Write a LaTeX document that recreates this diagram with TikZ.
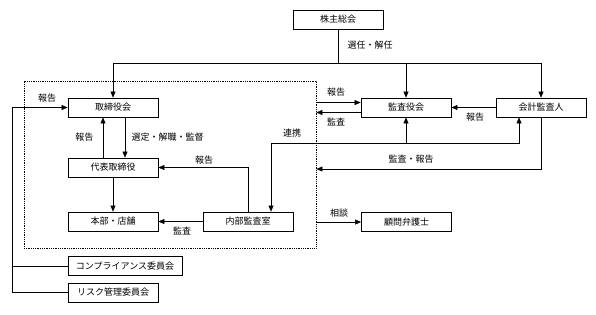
\documentclass[tikz,border=0pt]{standalone}
\usepackage{fontspec}
\newfontfamily\jpfont{Noto Sans CJK JP}
\usetikzlibrary{arrows.meta}
\begin{document}
\begin{tikzpicture}[x=1pt,y=-1pt,every node/.style={font=\jpfont\fontsize{9}{10}\selectfont},
  box/.style={draw,thick,minimum width=90pt,minimum height=19pt,inner sep=0pt},
  arr/.style={-{Triangle[length=6pt,width=5pt]}},lbl/.style={inner sep=1pt}]
\useasboundingbox (0,0) rectangle (596,314);
\node[draw,densely dotted,thick,minimum width=292pt,minimum height=167pt] (group) at (170,164.5) {};
\node[box] (kabu) at (338,19.5) {株主総会};
\node[box] (torishimari) at (113,107.5) {取締役会};
\node[box] (kansa) at (406,107.5) {監査役会};
\node[box] (kaikei) at (541,107.5) {会計監査人};
\node[box] (daihyo) at (113,167.5) {代表取締役};
\node[box] (honbu) at (113,221.5) {本部・店舗};
\node[box] (naibu) at (248,221.5) {内部監査室};
\node[box] (komon) at (406.5,222) {顧問弁護士};
\node[box,minimum width=114pt] (comp) at (125,266) {コンプライアンス委員会};
\node[box] (risk) at (113,292.5) {リスク管理委員会};
\coordinate (sel) at (338,63); \coordinate (lbus) at (12,107.5);
\coordinate (renkei) at (271,143); \coordinate (kh) at (541,169);
\draw[arr](kabu.south)--(sel)-|(torishimari.north); \draw[arr](sel)-|(kaikei.north);
\draw[arr](sel-|kansa.north)--(kansa.north);
\node[lbl] at (370,45){選任・解任};
\draw[arr](lbus)--(torishimari.west); \draw(lbus)|-(risk.west); \draw(lbus|-comp.west)--(comp.west);
\node[lbl] at (47,98){報告};
\draw[arr]([xshift=-10pt]daihyo.north)--([xshift=-10pt]torishimari.south) node[midway,left=6pt]{報告};
\draw[arr]([xshift=12pt]torishimari.south)--([xshift=12pt]daihyo.north) node[midway,right=3pt]{選定・解職・監督};
\draw[arr](daihyo.south)--(honbu.north);
\draw[arr](naibu.north)|-(daihyo.east); \node[lbl] at (204,160){報告};
\draw[arr](naibu.west)--(honbu.east); \node[lbl] at (182,231){監査};
\draw[arr](renkei)--(renkei|-naibu.north); \draw[arr](renkei)-|([xshift=-22pt]kaikei.south);
\draw[arr](renkei-|kansa.south)--(kansa.south); \node[lbl] at (292,133){連携};
\draw[arr]([yshift=5pt]kansa.west-|group.east)--([yshift=5pt]kansa.west); \node[lbl] at (336,92){報告};
\draw[arr]([yshift=-5pt]kansa.west)--([yshift=-5pt]kansa.west-|group.east); \node[lbl] at (336,122){監査};
\draw[arr](kaikei.west)--(kansa.east); \node[lbl] at (475,117){報告};
\draw[arr](kaikei.south)--(kh)--(kh-|group.east); \node[lbl] at (411,159){監査・報告};
\draw[arr](komon.west-|group.east)--(komon.west); \node[lbl] at (339,213){相談};
\end{tikzpicture}
\end{document}
